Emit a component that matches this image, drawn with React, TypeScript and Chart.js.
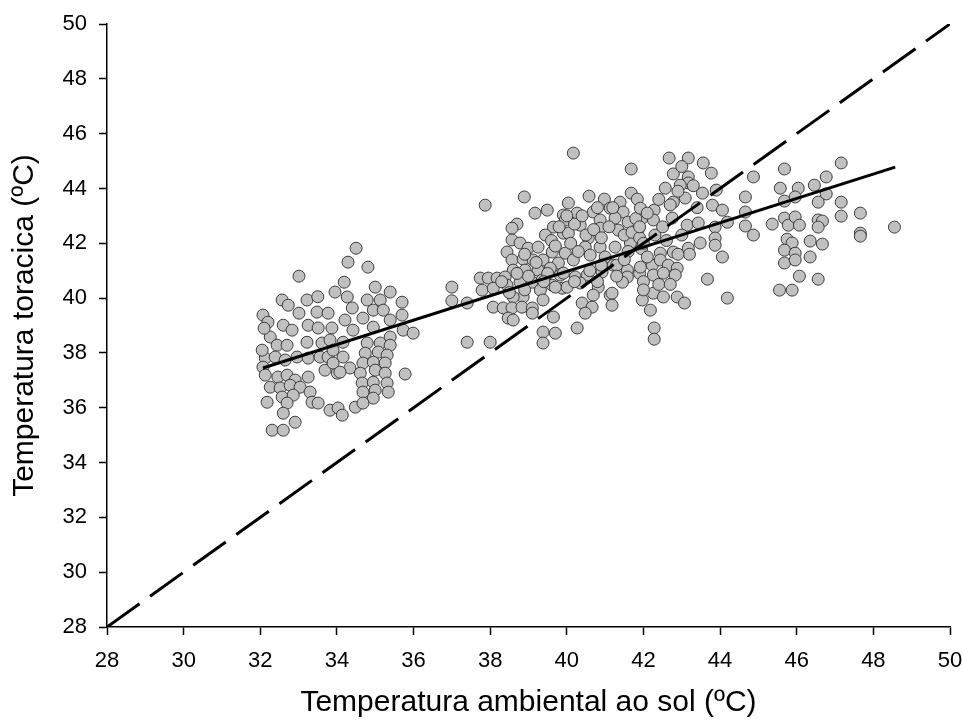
import React, { useEffect, useRef } from "react";
import { Chart, registerables } from "chart.js";

Chart.register(...registerables);

// Axis range / ticks
const axisMin = 28;
const axisMax = 50;
const axisStep = 2;

const xTitle = "Temperatura ambiental ao sol (ºC)";
const yTitle = "Temperatura toracica (ºC)";

// Regression line end points
const regressionX = [32.07, 48.57];
const regressionY = [37.45, 44.78];

// Identity (1:1) line
const identityX = [28, 50];
const identityY = [28, 50];

// Observations [ambient temp, thoracic temp] — cooler group (~32–36 ºC)
const coolGroup: [number, number][] = [
  [33.01, 40.8], [32.57, 39.93], [32.73, 39.74], [33.01, 39.45], [32.07, 39.38], [32.2, 39.12],
  [33.48, 39.49], [33.77, 39.45], [33.95, 40.22], [32.6, 39.01], [32.83, 38.83], [33.25, 39.01],
  [33.51, 38.91], [33.87, 38.91], [32.26, 38.58], [32.44, 38.28], [32.7, 38.28], [33.22, 38.39],
  [33.61, 38.36], [33.82, 38.47], [32.13, 37.81], [32.39, 37.85], [32.65, 37.74], [32.96, 37.85],
  [33.25, 37.81], [33.56, 37.85], [33.77, 37.85], [32.07, 37.48], [32.13, 37.19], [32.46, 37.12],
  [32.7, 37.19], [32.91, 37.01], [33.25, 37.12], [33.69, 37.37], [34.01, 37.26], [32.26, 36.75],
  [32.52, 36.72], [32.78, 36.82], [33.04, 36.75], [33.3, 36.57], [32.57, 36.39], [32.86, 36.46],
  [32.18, 36.2], [32.7, 36.17], [33.35, 36.2], [33.51, 36.17], [32.6, 35.8], [32.91, 35.47],
  [32.31, 35.18], [32.6, 35.18], [33.82, 35.91], [34.03, 35.99], [32.05, 38.1], [32.1, 38.9],
  [33.22, 39.93], [33.5, 40.05],
  [34.5, 41.82], [34.29, 41.31], [34.81, 41.13], [34.19, 40.58], [35.0, 40.4], [35.39, 40.22],
  [34.27, 40.04], [34.79, 39.93], [35.13, 39.93], [35.7, 39.85], [34.4, 39.64], [34.95, 39.56],
  [35.21, 39.56], [35.7, 39.38], [34.21, 39.2], [34.68, 39.27], [35.39, 39.2], [34.42, 38.83],
  [34.95, 38.94], [35.73, 38.83], [35.99, 38.72], [35.39, 38.58], [34.16, 38.39], [34.79, 38.36],
  [35.13, 38.36], [35.39, 38.28], [33.9, 38.1], [34.74, 37.99], [35.08, 38.03], [35.31, 37.92],
  [34.16, 37.85], [33.9, 37.63], [34.34, 37.45], [34.68, 37.63], [34.95, 37.66], [35.26, 37.63],
  [34.08, 37.3], [34.61, 37.26], [35.0, 37.37], [35.26, 37.26], [35.78, 37.23], [34.66, 36.9],
  [34.95, 36.93], [35.31, 36.9], [34.68, 36.57], [35.0, 36.64], [35.34, 36.57], [34.95, 36.35],
  [34.48, 36.02], [34.68, 36.17], [34.14, 35.73],
];

// Middle group (~37–42 ºC)
const midGroup: [number, number][] = [
  [38.89, 43.69], [37.87, 43.39], [39.17, 43.1], [39.49, 43.21], [38.7, 42.7], [38.57, 42.55],
  [39.65, 42.59], [39.44, 42.3], [39.91, 43.03], [39.91, 42.37], [38.57, 42.12], [38.78, 42.01],
  [38.99, 41.82], [39.25, 41.86], [38.44, 41.68], [38.57, 41.39], [38.86, 41.42], [39.12, 41.39],
  [39.38, 41.39], [39.62, 41.68], [39.78, 41.28], [38.6, 41.02], [38.91, 41.02], [39.25, 41.02],
  [39.57, 41.09], [39.83, 40.84], [37.74, 40.73], [37.95, 40.73], [38.18, 40.73], [38.39, 40.77],
  [37.79, 40.29], [38.08, 40.36], [38.44, 40.47], [38.78, 40.58], [39.1, 40.58], [39.36, 40.66],
  [39.62, 40.47], [39.31, 40.29], [39.88, 40.36], [38.86, 40.04], [38.6, 40.04], [39.38, 39.93],
  [38.08, 39.67], [38.34, 39.64], [38.57, 39.64], [38.83, 39.67], [39.1, 39.64], [38.47, 39.27],
  [38.6, 39.2], [39.1, 39.45], [39.65, 39.31], [39.38, 38.76], [39.7, 38.72], [39.38, 38.36],
  [38.0, 38.39], [37.4, 38.39], [37.4, 39.82], [37.0, 40.4], [37.0, 39.9],
  [40.17, 45.29], [41.68, 44.71], [40.58, 43.72], [40.98, 43.61], [40.04, 43.47], [41.39, 43.5],
  [41.68, 43.83], [41.84, 43.61], [40.27, 43.1], [40.69, 43.14], [41.13, 43.28], [41.47, 43.14],
  [41.97, 42.92], [39.96, 42.85], [40.35, 42.66], [40.87, 42.85], [41.26, 42.92], [41.6, 42.77],
  [41.86, 42.48], [40.04, 42.37], [40.56, 42.19], [40.87, 42.55], [41.34, 42.48], [40.48, 41.86],
  [40.87, 41.86], [41.26, 41.86], [41.66, 42.01], [39.96, 41.64], [40.17, 41.39], [40.61, 41.57],
  [39.91, 40.91], [40.22, 40.77], [40.53, 40.84], [40.92, 40.95], [41.21, 41.2], [41.58, 41.02],
  [41.58, 40.77], [41.45, 40.58], [40.01, 40.4], [40.35, 40.55], [40.82, 40.4], [40.69, 40.11],
  [41.13, 40.11], [41.18, 39.74], [40.4, 39.82], [40.66, 39.67], [40.48, 39.45], [40.27, 38.91],
  [41.18, 40.18],
  [39.6, 42.1], [39.8, 42.6], [40.1, 42.0], [40.2, 42.7], [40.3, 41.7], [40.0, 43.0],
  [39.7, 41.9], [40.5, 42.3], [40.7, 42.5], [40.9, 42.2], [41.1, 42.6], [41.0, 41.5],
  [41.3, 41.2], [41.5, 42.3], [41.7, 42.4], [41.8, 42.9], [41.2, 43.3], [40.8, 43.3],
  [40.4, 43.0], [39.5, 40.9], [39.2, 41.3], [38.9, 41.6], [39.0, 40.8], [39.4, 40.6],
  [38.7, 40.9], [38.3, 40.6], [38.5, 40.2], [38.9, 40.3], [39.7, 40.4], [40.2, 40.6],
  [40.6, 41.0], [40.9, 41.2], [41.6, 41.7], [41.3, 40.8], [40.8, 40.6], [41.5, 41.4],
  [41.9, 42.2], [41.95, 41.8], [41.9, 40.9], [42.0, 40.6],
];

// Hot group (~42–48.5 ºC)
const hotGroup: [number, number][] = [
  [42.67, 45.11], [43.17, 45.11], [43.56, 44.93], [43.77, 44.56], [42.78, 44.53], [43.17, 44.42],
  [43.17, 44.2], [42.57, 44.01], [42.96, 44.12], [43.9, 43.94], [43.54, 43.83], [42.78, 43.5],
  [43.09, 43.65], [43.8, 43.39], [44.06, 43.21], [42.28, 43.21], [41.92, 43.28], [42.26, 42.85],
  [42.75, 42.92], [43.14, 42.66], [43.43, 42.74], [43.87, 42.59], [44.19, 42.77], [43.87, 42.19],
  [43.87, 41.93], [43.48, 42.01], [43.17, 41.82], [42.78, 41.68], [42.44, 41.64], [41.92, 41.13],
  [42.23, 41.2], [42.44, 41.39], [42.65, 41.2], [42.88, 41.09], [42.26, 40.84], [42.52, 40.91],
  [42.83, 40.84], [41.97, 39.93], [42.26, 40.18], [42.52, 40.04], [42.88, 40.04], [43.07, 39.82],
  [42.18, 39.56], [42.28, 38.91], [42.28, 38.5],
  [42.0, 42.0], [42.1, 41.5], [42.3, 42.3], [42.5, 42.6], [42.7, 43.4], [42.9, 43.9],
  [43.3, 44.1], [43.0, 44.8], [43.4, 43.3], [42.4, 43.6], [42.1, 43.1], [41.9, 42.6],
  [42.6, 42.1], [43.0, 42.3], [43.2, 41.6], [42.9, 41.6], [42.4, 40.5], [42.0, 40.3], [42.7, 40.5],
  [44.87, 44.42], [45.68, 44.71], [47.16, 44.93], [44.66, 43.69], [45.57, 44.01], [46.04, 44.01],
  [46.46, 44.12], [46.77, 44.42], [46.77, 43.8], [46.56, 43.5], [45.68, 43.54], [45.96, 43.69],
  [47.16, 43.5], [47.16, 42.99], [47.66, 43.1], [47.66, 42.37], [47.66, 42.26], [44.66, 43.14],
  [44.66, 42.63], [44.87, 42.3], [45.36, 42.7], [45.68, 42.92], [45.78, 42.66], [45.96, 42.96],
  [46.07, 42.66], [46.56, 42.85], [46.67, 42.81], [46.56, 42.59], [45.75, 42.15], [45.88, 42.01],
  [46.35, 42.08], [46.67, 41.97], [45.68, 41.75], [45.96, 41.64], [45.68, 41.28], [45.96, 41.39],
  [46.35, 41.5], [46.07, 40.8], [46.56, 40.69], [45.55, 40.29], [45.88, 40.29], [48.55, 42.59],
  [44.06, 41.5], [43.67, 40.69], [44.19, 40.0],
];

const FONT = 'Arial, "Liberation Sans", sans-serif';

export default function App() {
  const ref = useRef<HTMLCanvasElement>(null);

  useEffect(() => {
    if (!ref.current) return;
    const points = [...coolGroup, ...midGroup, ...hotGroup].map(([x, y]) => ({ x, y }));
    const regression = regressionX.map((x, i) => ({ x, y: regressionY[i] }));
    const identity = identityX.map((x, i) => ({ x, y: identityY[i] }));

    const axisCommon = (title: string, isX: boolean) => ({
      type: "linear" as const,
      min: axisMin,
      max: axisMax,
      ticks: {
        stepSize: axisStep,
        color: "#000",
        font: { family: FONT, size: 22 },
        padding: isX ? 13 : 12,
        maxRotation: 0,
      },
      grid: {
        drawOnChartArea: false,
        drawTicks: true,
        tickLength: 8,
        tickColor: "#000",
        tickWidth: 1.5,
      },
      border: { display: true, color: "#000", width: 1.5 },
      title: {
        display: true,
        text: title,
        color: "#000",
        font: { family: FONT, size: 30, weight: "normal" as const },
        padding: isX ? { top: 0, bottom: 3 } : { top: 7, bottom: 0 },
      },
      afterFit: (scale: any) => {
        if (isX) {
          scale.height = 97;
          scale.paddingLeft = 0;
          scale.paddingRight = 13;
        } else {
          scale.width = 107;
          scale.paddingTop = 24;
          scale.paddingBottom = 0;
        }
      },
    });

    const chart = new Chart(ref.current, {
      type: "scatter",
      data: {
        datasets: [
          {
            data: regression,
            showLine: true,
            borderColor: "#000",
            borderWidth: 3,
            pointRadius: 0,
            fill: false,
          },
          {
            data: identity,
            showLine: true,
            borderColor: "#000",
            borderWidth: 3,
            borderDash: [40, 13],
            pointRadius: 0,
            fill: false,
          },
          {
            data: points,
            pointRadius: 6,
            pointBackgroundColor: "#c0c0c0",
            pointBorderColor: "#3c3c3c",
            pointBorderWidth: 1,
            showLine: false,
          },
        ],
      },
      options: {
        responsive: false,
        animation: false,
        events: [],
        layout: { padding: { top: 24, right: 13, left: 0, bottom: 0 } },
        plugins: { legend: { display: false }, tooltip: { enabled: false } },
        scales: {
          x: axisCommon(xTitle, true) as any,
          y: axisCommon(yTitle, false) as any,
        },
      },
    });
    return () => chart.destroy();
  }, []);

  return (
    <div style={{ position: "absolute", left: 0, top: 0, width: 963, height: 724, background: "#fff" }}>
      <canvas ref={ref} width={963} height={724} style={{ display: "block" }} />
    </div>
  );
}
